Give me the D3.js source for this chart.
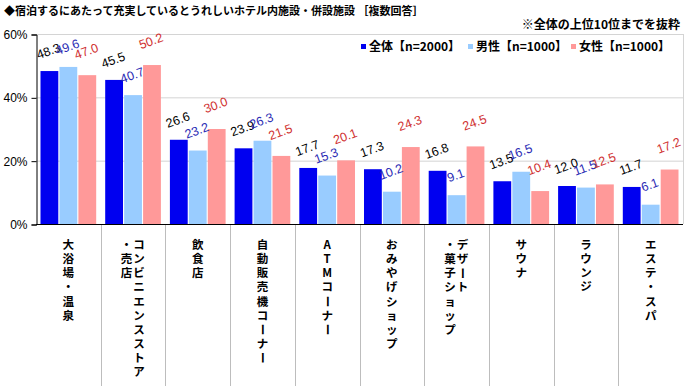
<!DOCTYPE html>
<html>
<head>
<meta charset="utf-8">
<script src="https://cdn.jsdelivr.net/npm/d3@7"></script>
<style>
body { margin:0; background:#fff; }
svg text { font-family: "Noto Sans CJK JP", "Liberation Sans", sans-serif; }
.num { font-family: "Liberation Sans", Arial, sans-serif; }
</style>
</head>
<body>
<svg id="chart" width="686" height="388"></svg>
<script>
// categories, columns split by "\n" (right column first)
var categories = ["大浴場・温泉", "コンビニエンスストア\n・売店", "飲食店", "自動販売機コーナー", "ATMコーナー",
  "おみやげショップ", "デザート\n・菓子ショップ", "サウナ", "ラウンジ", "エステ・スパ"]
var seriesNames = ["全体【n=2000】", "男性【n=1000】", "女性【n=1000】"]
var total  = [48.3, 45.5, 26.6, 23.9, 17.7, 17.3, 16.8, 13.5, 12.0, 11.7]
var male   = [49.6, 40.7, 23.2, 26.3, 15.3, 10.2, 9.1, 16.5, 11.5, 6.1]
var female = [47.0, 50.2, 30.0, 21.5, 20.1, 24.3, 24.5, 10.4, 12.5, 17.2]
var yTicks = [0, 20, 40, 60]

var barColors = ["#0000f0", "#99ccff", "#ff9999"]
var labelColors = ["#000000", "#2a2ab4", "#d03030"]
var labelOffset = [20, 20, 24]

var svg = d3.select("#chart")
var plotL = 36, plotR = 683, plotT = 34, plotB = 224

var x0 = d3.scaleBand().domain(d3.range(categories.length)).range([plotL, plotR])
var x1 = d3.scaleBand().domain([0, 1, 2]).range([4.5, x0.bandwidth() - 4.5]).paddingInner(0.06)
var y = d3.scaleLinear().domain([0, 60]).range([plotB, plotT])

// title
svg.append("text").attr("x", 4).attr("y", 15)
  .attr("font-size", 11).attr("font-weight", "bold")
  .text("◆宿泊するにあたって充実しているとうれしいホテル内施設・併設施設 ［複数回答］")
svg.append("text").attr("x", 680).attr("y", 29).attr("text-anchor", "end")
  .attr("font-size", 12).attr("font-weight", "bold")
  .text("※全体の上位10位までを抜粋")

// grid
svg.append("g").selectAll("line").data(yTicks.filter(function(d){ return d > 0 }))
  .enter().append("line")
  .attr("x1", plotL).attr("x2", plotR)
  .attr("y1", function(d){ return y(d) + 0.5 }).attr("y2", function(d){ return y(d) + 0.5 })
  .attr("stroke", "#d4d4d4")
svg.append("line").attr("x1", plotR + 0.5).attr("x2", plotR + 0.5).attr("y1", plotT).attr("y2", plotB)
  .attr("stroke", "#d4d4d4")

// y axis
var yAxis = svg.append("g").attr("transform", "translate(" + (plotL + 0.5) + ",0.5)")
  .call(d3.axisLeft(y).tickValues(yTicks).tickFormat(function(d){ return d + "%" }).tickSize(5).tickPadding(4))
yAxis.select(".domain").attr("stroke", "#000")
yAxis.selectAll("text").attr("font-size", 12).attr("fill", "#000")
  .style("font-family", "Liberation Sans, Arial, sans-serif")

// category separators
svg.append("g").selectAll("line").data(d3.range(1, categories.length))
  .enter().append("line")
  .attr("x1", function(i){ return Math.round(x0(i)) + 0.5 }).attr("x2", function(i){ return Math.round(x0(i)) + 0.5 })
  .attr("y1", plotB).attr("y2", 386)
  .attr("stroke", "#bdbdbd")

// bars
var data = [total, male, female]
var groups = svg.append("g").selectAll("g").data(categories).enter().append("g")
  .attr("transform", function(d, i){ return "translate(" + x0(i) + ",0)" })

groups.each(function(cat, i) {
  var g = d3.select(this)
  data.forEach(function(s, k) {
    g.append("rect")
      .attr("x", x1(k)).attr("width", x1.bandwidth())
      .attr("y", y(s[i])).attr("height", plotB - y(s[i]))
      .attr("fill", barColors[k])
  })
  data.forEach(function(s, k) {
    var cx = x1(k) + x1.bandwidth() / 2 - 1
    var cy = y(s[i]) - labelOffset[k]
    g.append("text").attr("class", "num")
      .attr("transform", "translate(" + cx + "," + cy + ") rotate(-20)")
      .attr("text-anchor", "middle").attr("dy", "0.35em")
      .attr("font-size", 12.5).attr("fill", labelColors[k])
      .text(s[i].toFixed(1))
  })
  // vertical category label
  var cols = cat.split("\n")
  var cxMid = x0.bandwidth() / 2
  cols.forEach(function(col, c) {
    var colX = cols.length === 1 ? cxMid : cxMid + 6 - c * 12.5
    Array.from(col).forEach(function(ch, j) {
      var cy = 245 + j * 14.1
      var t = g.append("text")
        .attr("text-anchor", "middle").attr("dy", "0.36em")
        .attr("font-size", 11.5).attr("font-weight", "bold")
        .text(ch)
      if (ch === "ー") t.attr("transform", "translate(" + colX + "," + cy + ") rotate(90)")
      else t.attr("transform", "translate(" + colX + "," + cy + ")")
    })
  })
})

// x axis line
svg.append("line").attr("x1", plotL).attr("x2", plotR).attr("y1", plotB + 0.5).attr("y2", plotB + 0.5)
  .attr("stroke", "#000")

// legend
var legendX = [361, 468, 571]
var lg = svg.append("g").selectAll("g").data(seriesNames).enter().append("g")
  .attr("transform", function(d, i){ return "translate(" + legendX[i] + ",47)" })
lg.append("rect").attr("x", 0).attr("y", -3).attr("width", 5).attr("height", 5)
  .attr("fill", function(d, i){ return barColors[i] })
lg.append("text").attr("x", 8).attr("dy", "0.36em")
  .attr("font-size", 12).attr("font-weight", "bold")
  .text(function(d){ return d })
</script>
</body>
</html>
